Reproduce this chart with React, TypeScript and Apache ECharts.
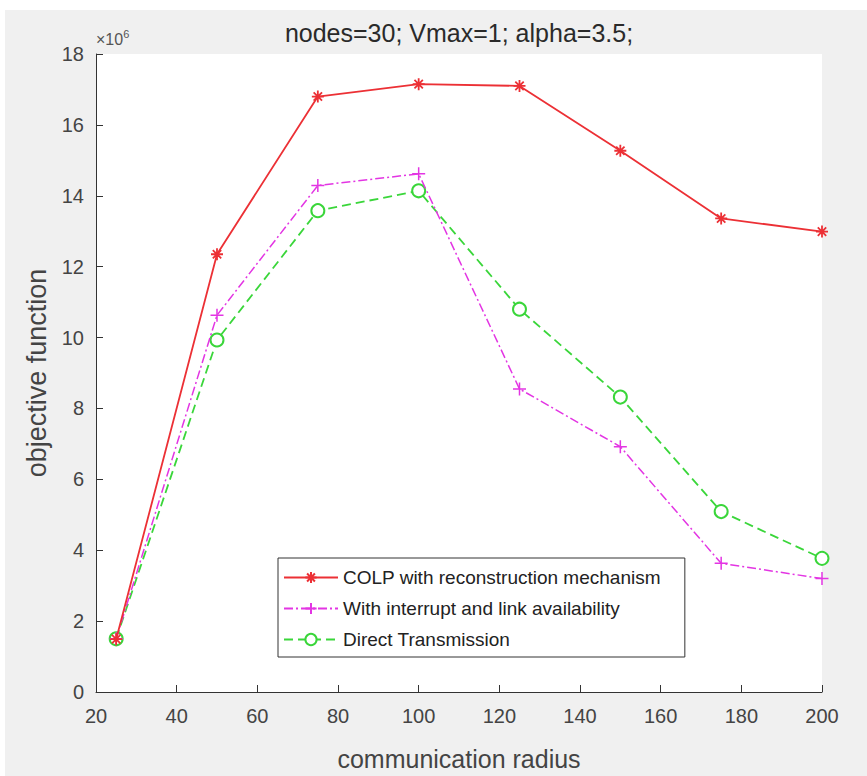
import React, { useEffect, useRef } from "react";
import * as echarts from "echarts";

const radius = [25, 50, 75, 100, 125, 150, 175, 200];
const colp = [1.49, 12.35, 16.8, 17.15, 17.1, 15.27, 13.36, 12.99];
const interrupt = [1.5, 10.63, 14.29, 14.62, 8.55, 6.92, 3.63, 3.2];
const direct = [1.5, 9.93, 13.58, 14.14, 10.8, 8.32, 5.09, 3.77];
const seriesNames = [
  "COLP with reconstruction mechanism",
  "With interrupt and link availability",
  "Direct Transmission",
];
const titleText = "nodes=30; Vmax=1; alpha=3.5;";

const asterisk = "path://M0,-10L0,10M-10,0L10,0M-7,-7L7,7M-7,7L7,-7";
const plus = "path://M0,-10L0,10M-10,0L10,0";
const font = "Liberation Sans";

export default function App() {
  const ref = useRef<HTMLDivElement>(null);
  useEffect(() => {
    const chart = echarts.init(ref.current!, null, { renderer: "svg" });
    const pts = (ys: number[]) => radius.map((x, i) => [x, ys[i]]);
    chart.setOption({
      animation: false,
      backgroundColor: "#ffffff",
      graphic: [
        { type: "rect", z: -10, shape: { x: 5, y: 10, width: 862, height: 766 }, style: { fill: "#f0f0f0" }, silent: true },
        {
          type: "text",
          x: 459,
          y: 33,
          style: {
            text: titleText,
            fontSize: 25,
            fill: "#2a2a2a",
            fontFamily: font,
            align: "center",
            verticalAlign: "middle",
          },
        },
        {
          type: "text",
          left: 96,
          top: 28,
          style: {
            text: "{a|×10}{b|6}",
            fill: "#555",
            fontFamily: font,
            rich: {
              a: { fontSize: 16, fill: "#555", fontFamily: font, verticalAlign: "bottom" },
              b: { fontSize: 11, fill: "#555", fontFamily: font, verticalAlign: "top", padding: [0, 0, 8, 0] },
            },
          },
        },
      ],
      grid: {
        left: 96,
        top: 54,
        width: 726,
        height: 640,
        show: true,
        backgroundColor: "#ffffff",
        borderWidth: 0,
      },
      legend: {
        orient: "vertical",
        left: 278,
        top: 558,
        padding: [10, 24, 8, 5],
        itemGap: 12,
        itemWidth: 54,
        itemHeight: 14,
        backgroundColor: "#ffffff",
        borderColor: "#333",
        borderWidth: 1,
        textStyle: { fontSize: 19, color: "#222", fontFamily: font },
        data: seriesNames,
      },
      xAxis: {
        type: "value",
        min: 20,
        max: 200,
        interval: 20,
        name: "communication radius",
        nameLocation: "middle",
        nameGap: 54,
        nameTextStyle: { fontSize: 25, color: "#444", fontFamily: font },
        axisLine: { lineStyle: { color: "#333", width: 1 } },
        axisTick: { inside: true, length: 7, lineStyle: { color: "#333" } },
        axisLabel: { fontSize: 20, color: "#444", margin: 14, fontFamily: font },
        splitLine: { show: false },
      },
      yAxis: {
        type: "value",
        min: 0,
        max: 18,
        interval: 2,
        name: "objective function",
        nameLocation: "middle",
        nameGap: 40,
        nameTextStyle: { fontSize: 27, color: "#444", fontFamily: font },
        axisLine: { show: true, lineStyle: { color: "#333", width: 1 } },
        axisTick: { show: true, inside: true, length: 7, lineStyle: { color: "#333" } },
        axisLabel: { fontSize: 20, color: "#444", margin: 12, fontFamily: font },
        splitLine: { show: false },
      },
      series: [
        {
          name: seriesNames[0],
          type: "line",
          data: pts(colp),
          symbol: asterisk,
          symbolSize: 12,
          lineStyle: { color: "#ec3035", width: 1.8, type: "solid" },
          itemStyle: { color: "#ec3035", borderColor: "#ec3035", borderWidth: 1.8 },
          z: 3,
        },
        {
          name: seriesNames[1],
          type: "line",
          data: pts(interrupt),
          symbol: plus,
          symbolSize: 13,
          lineStyle: { color: "#e335e3", width: 1.5, type: [9, 3, 2, 3] },
          itemStyle: { color: "#e335e3", borderColor: "#e335e3", borderWidth: 1.5 },
          z: 2,
        },
        {
          name: seriesNames[2],
          type: "line",
          data: pts(direct),
          symbol: "emptyCircle",
          symbolSize: 13,
          lineStyle: { color: "#3ad63a", width: 1.8, type: [9, 5] },
          itemStyle: { color: "#3ad63a", borderColor: "#3ad63a", borderWidth: 1.6 },
          z: 1,
        },
      ],
    });
    return () => chart.dispose();
  }, []);
  return (
    <div
      ref={ref}
      style={{ position: "fixed", left: 0, top: 0, width: 867, height: 776 }}
    />
  );
}
